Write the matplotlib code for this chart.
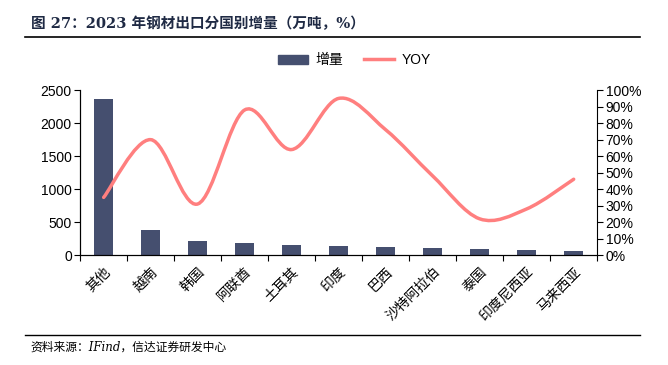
import matplotlib
matplotlib.use("Agg")
import matplotlib.pyplot as plt
from matplotlib.path import Path
from matplotlib.patches import PathPatch
from matplotlib.lines import Line2D
import numpy as np

plt.rcParams['font.family'] = ['Liberation Sans', 'Noto Sans CJK SC', 'DejaVu Sans']

# data
countries = ['其他', '越南', '韩国', '阿联酋', '土耳其', '印度', '巴西', '沙特阿拉伯', '泰国', '印度尼西亚', '马来西亚']
increase = [2370, 380, 210, 180, 160, 145, 120, 110, 90, 75, 60]
yoy = [35, 70, 31, 88, 64, 95, 76, 48, 22, 28, 46]

bar_color = '#454F6F'
line_color = '#FF7F7F'

fig = plt.figure(figsize=(6.68, 3.65), dpi=100)
ax = fig.add_axes([0.12, 0.301, 0.774, 0.452])

x = np.arange(len(countries))
ax.bar(x, increase, width=0.4, color=bar_color, zorder=2)
ax.set_xlim(-0.5, len(countries) - 0.5)
ax.set_ylim(0, 2500)
ax.set_yticks(range(0, 2501, 500))
ax.tick_params(axis='y', direction='out', length=4, labelsize=10, pad=2)
ax.set_xticks(np.arange(-0.5, len(countries), 1.0))
ax.set_xticklabels([])
ax.tick_params(axis='x', direction='out', length=4)
ax.set_xticks(x, minor=True)
ax.set_xticklabels(countries, minor=True, rotation=45, ha='right', va='top',
                   rotation_mode='anchor', fontsize=10)
ax.tick_params(axis='x', which='minor', length=0, pad=7)
ax.spines['top'].set_visible(False)
ax.spines['right'].set_visible(False)

ax2 = ax.twinx()
ax2.set_ylim(0, 100)
ax2.set_yticks(range(0, 101, 10))
ax2.set_yticklabels([f'{v}%' for v in range(0, 101, 10)])
ax2.tick_params(axis='y', direction='out', length=4, labelsize=10, pad=2)
ax2.spines['top'].set_visible(False)

# smooth line like the Excel smoothed series (Catmull-Rom -> Bezier)
pts = np.column_stack([x, yoy]).astype(float)
verts = [pts[0]]
codes = [Path.MOVETO]
t = 1.0 / 6.0
for i in range(len(pts) - 1):
    p0 = pts[i - 1] if i > 0 else pts[i]
    p1 = pts[i]
    p2 = pts[i + 1]
    p3 = pts[i + 2] if i + 2 < len(pts) else pts[i + 1]
    c1 = p1 + (p2 - p0) * t
    c2 = p2 - (p3 - p1) * t
    verts += [c1, c2, p2]
    codes += [Path.CURVE4] * 3
ax2.add_patch(PathPatch(Path(verts, codes), facecolor='none', edgecolor=line_color,
                        lw=2.5, capstyle='round', zorder=3))

# legend
handles = [plt.Rectangle((0, 0), 1, 1, color=bar_color),
           Line2D([0], [0], color=line_color, lw=2.5)]
fig.legend(handles, ['增量', 'YOY'], loc='center', bbox_to_anchor=(0.53, 0.835),
           ncol=2, frameon=False, fontsize=10, handlelength=2.2, columnspacing=1.5,
           handletextpad=0.5)

# title and source
fig.text(0.046, 0.935, '图 27：2023 年钢材出口分国别增量（万吨，%）', fontsize=10.5,
         fontweight='bold', color='#1F2A44', ha='left', va='center',
         family=['DejaVu Serif', 'Noto Sans CJK SC'])
fig.add_artist(Line2D([0.037, 0.958], [0.9, 0.9], color='black', lw=1.2))
fig.add_artist(Line2D([0.037, 0.958], [0.082, 0.082], color='black', lw=1.0))
fig.text(0.046, 0.048, '资料来源：IFind，信达证券研发中心', fontsize=8.5,
         style='italic', ha='left', va='center',
         family=['DejaVu Serif', 'Noto Sans CJK SC'])

fig.savefig('out.png', dpi=100)
